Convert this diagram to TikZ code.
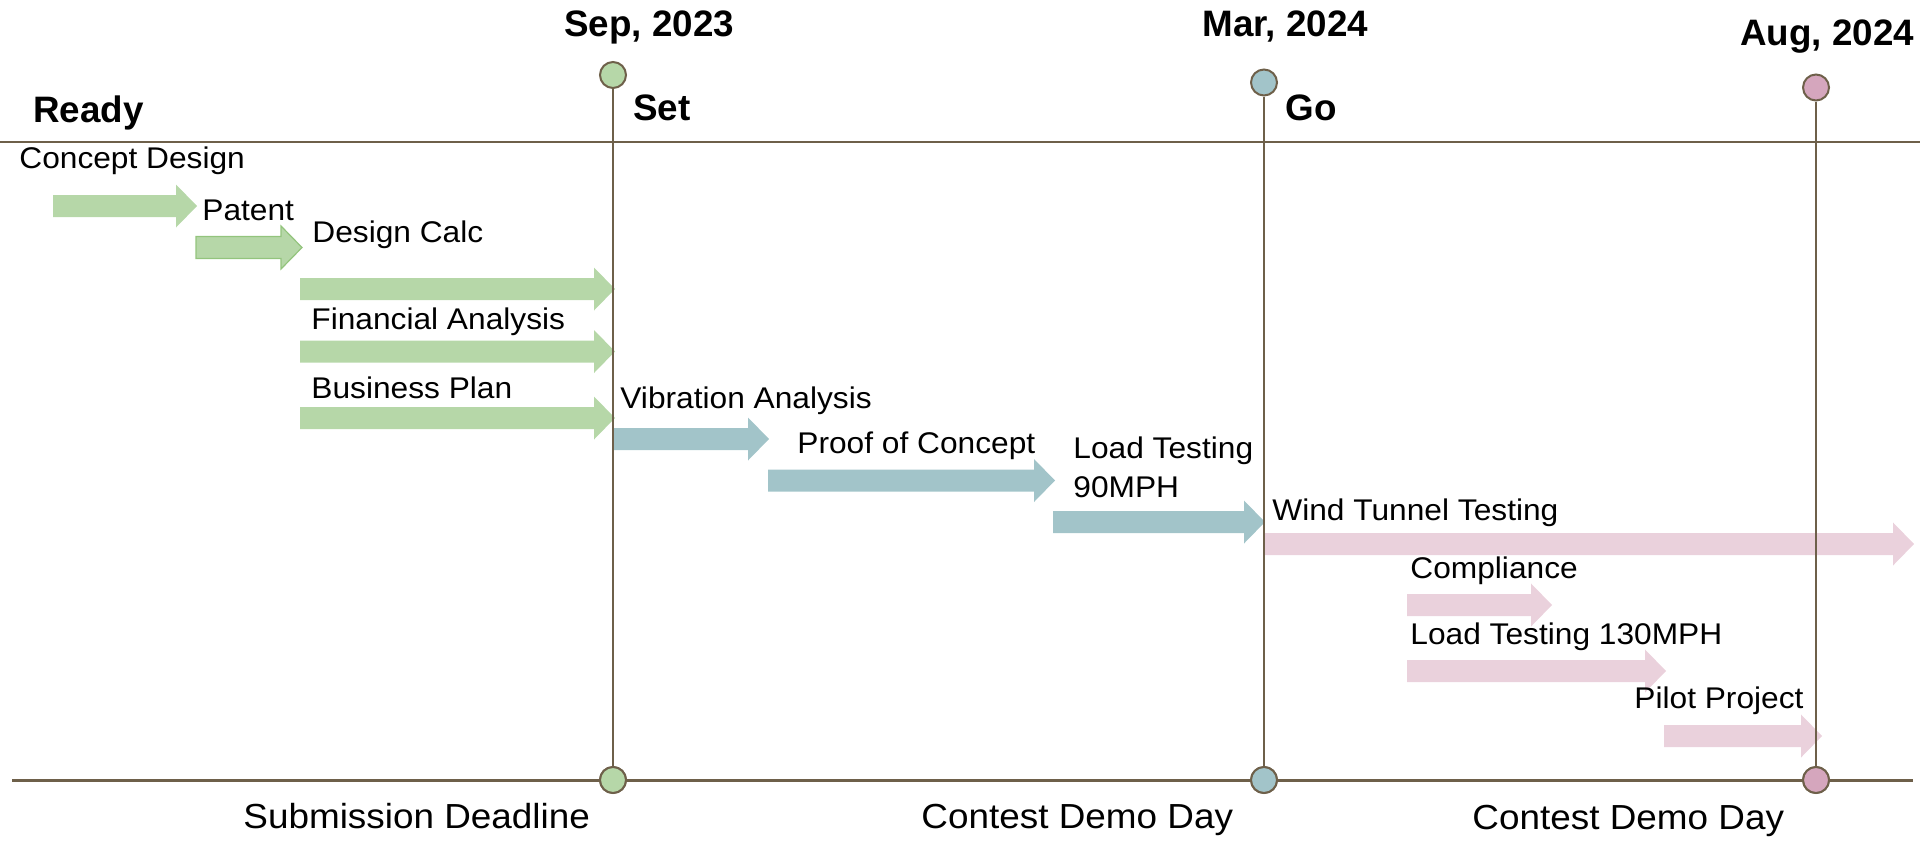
\documentclass[tikz,border=0pt]{standalone}
\usepackage{fontspec}
\setmainfont{Liberation Sans}[FakeStretch=1.06]
\newfontfamily\hdfont{Liberation Sans}
\definecolor{lgreen}{HTML}{B6D7A8}
\definecolor{dgreen}{HTML}{93C47D}
\definecolor{lblue}{HTML}{A2C4C9}
\definecolor{lpink}{HTML}{EAD1DC}
\definecolor{mpink}{HTML}{D5A6BD}
\definecolor{lnbrown}{HTML}{6E604A}
\newcommand\garrow[4]{%
  \path[#4] (#1,#3-11) -- (#2-21,#3-11) -- (#2-21,#3-21.5) -- (#2,#3)
    -- (#2-21,#3+21.5) -- (#2-21,#3+11) -- (#1,#3+11) -- cycle;}
\tikzset{
  task/.style={anchor=base west, inner sep=0pt, font=\fontsize{14.95pt}{18pt}\selectfont},
  head/.style={anchor=base west, inner sep=0pt, font=\hdfont\bfseries\fontsize{18.4pt}{20pt}\selectfont},
  foot/.style={anchor=base west, inner sep=0pt, font=\fontsize{17.4pt}{20pt}\selectfont},
  milestone/.style={circle, draw=lnbrown, line width=1pt, minimum size=13pt, inner sep=0pt},
  vline/.style={draw=lnbrown, line width=1pt},
  hline/.style={draw=lnbrown, line width=1.3pt},
}
\begin{document}
\begin{tikzpicture}[x=0.5pt, y=-0.5pt]
\useasboundingbox (0,0) rectangle (1920,841);
% Gantt bars
\garrow{53}{197}{206}{fill=lgreen}
\garrow{196}{302}{247.5}{fill=lgreen, draw=dgreen, line width=0.6pt}
\garrow{300}{615}{289}{fill=lgreen}
\garrow{300}{615}{351.5}{fill=lgreen}
\garrow{300}{615}{418}{fill=lgreen}
\garrow{612}{769}{439}{fill=lblue}
\garrow{768}{1055}{480.5}{fill=lblue}
\garrow{1053}{1265}{522}{fill=lblue}
\garrow{1264}{1914}{544}{fill=lpink}
\garrow{1407}{1552}{605}{fill=lpink}
\garrow{1407}{1666}{671}{fill=lpink}
\garrow{1664}{1822}{736}{fill=lpink}
% milestones
\node[milestone, fill=lgreen] (sepT) at (613,75) {};
\node[milestone, fill=lblue] (marT) at (1264,82.5) {};
\node[milestone, fill=mpink] (augT) at (1816,87.5) {};
\node[milestone, fill=lgreen] (sepB) at (613,780) {};
\node[milestone, fill=lblue] (marB) at (1264,780) {};
\node[milestone, fill=mpink] (augB) at (1816,780) {};
\draw[vline] (sepT) -- (sepB);
\draw[vline] (marT) -- (marB);
\draw[vline] (augT) -- (augB);
\coordinate (topL) at (0,142);
\coordinate (topR) at (1920,142);
\coordinate (botL) at (12,780);
\coordinate (botR) at (1913,780);
\draw[hline] (topL) -- (topR);
\draw[hline, line width=1.5pt] (botL) -- (botR);
\node[milestone, fill=lgreen] at (sepB) {};
\node[milestone, fill=lblue] at (marB) {};
\node[milestone, fill=mpink] at (augB) {};
% headers
\node[head] (ready) at (33,122) {Ready};
\node[head] (set) at (633,120) {Set};
\node[head] (go) at (1285,120) {Go};
\node[head] (sep) at (564,36) {Sep, 2023};
\node[head] (mar) at (1202,36) {Mar, 2024};
\node[head] (aug) at (1740,45) {Aug, 2024};
% task labels
\node[task] (t1) at (19,168) {Concept Design};
\node[task] (t2) at (202,220) {Patent};
\node[task] (t3) at (312,242) {Design Calc};
\node[task] (t4) at (311,329) {Financial Analysis};
\node[task] (t5) at (311,398) {Business Plan};
\node[task] (t6) at (620,408) {Vibration Analysis};
\node[task] (t7) at (797,453) {Proof of Concept};
\node[task] (t8) at (1073,458) {\vtop{\baselineskip=19.75pt\hbox{Load Testing}\hbox{90MPH}}};
\node[task] (t9) at (1272,520) {Wind Tunnel Testing};
\node[task] (t10) at (1410,578) {Compliance};
\node[task] (t11) at (1410,644) {Load Testing 130MPH};
\node[task] (t12) at (1634,708) {Pilot Project};
% footers
\node[foot] (f1) at (243,828) {Submission Deadline};
\node[foot] (f2) at (921,828) {Contest Demo Day};
\node[foot] (f3) at (1472,829) {Contest Demo Day};
\end{tikzpicture}
\end{document}
